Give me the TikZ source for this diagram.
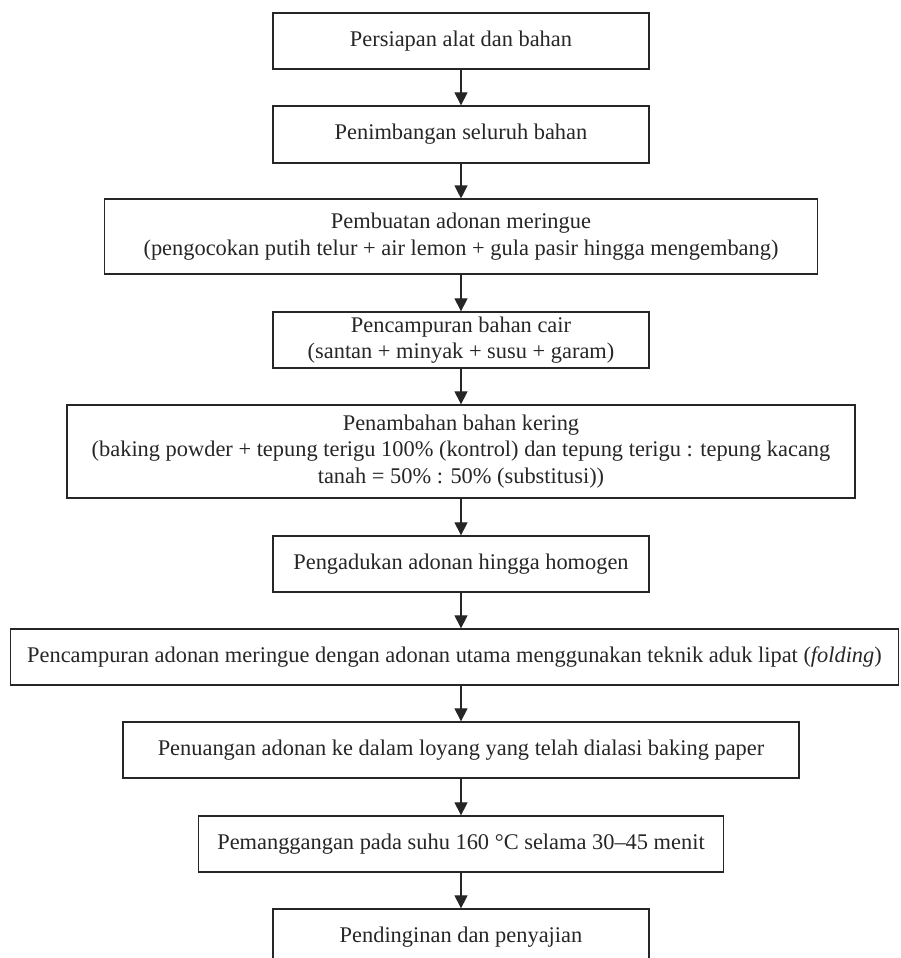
\documentclass[tikz,border=0pt]{standalone}
\usepackage{fontspec}
\setmainfont{Liberation Serif}
\usetikzlibrary{arrows.meta}
\begin{document}
\begin{tikzpicture}[x=1pt,y=1pt,
  box/.style={draw=black!85, line width=1.3pt, align=center, inner sep=0pt,
    font=\fontsize{22.4}{26.5}\selectfont, text=black!85},
  flow/.style={draw=black!85, line width=1.1pt, -{Triangle[length=13pt,width=13pt]}}]
\useasboundingbox (0,0) rectangle (900,-958);
\node[box, minimum width=376, minimum height=56] (b1) at (461,-41) {Persiapan alat dan bahan};
\node[box, minimum width=376, minimum height=57] (b2) at (461,-134.5) {Penimbangan seluruh bahan};
\node[box, minimum width=713, minimum height=75] (b3) at (461,-236.6) {Pembuatan adonan meringue\\(pengocokan putih telur + air lemon + gula pasir hingga mengembang)};
\node[box, minimum width=376, minimum height=56] (b4) at (461,-340) {Pencampuran bahan cair\\(santan + minyak + susu + garam)};
\node[box, minimum width=788, minimum height=93] (b5) at (461,-451.5) {Penambahan bahan kering\\(baking powder + tepung terigu 100\% (kontrol) dan tepung terigu : tepung kacang\\tanah = 50\% : 50\% (substitusi))};
\node[box, minimum width=376, minimum height=56] (b6) at (461,-564) {Pengadukan adonan hingga homogen};
\node[box, minimum width=888, minimum height=56] (b7) at (454.5,-657) {Pencampuran adonan meringue dengan adonan utama menggunakan teknik aduk lipat (\textit{folding})};
\node[box, minimum width=676, minimum height=56] (b8) at (461,-750) {Penuangan adonan ke dalam loyang yang telah dialasi baking paper};
\node[box, minimum width=525, minimum height=56] (b9) at (461,-844) {Pemanggangan pada suhu 160 °C selama 30–45 menit};
\node[box, minimum width=376, minimum height=56] (b10) at (461,-937) {Pendinginan dan penyajian};
\draw[flow] (b1) -- (b2);
\draw[flow] (b2) -- (b3);
\draw[flow] (b3) -- (b4);
\draw[flow] (b4) -- (b5);
\draw[flow] (b5) -- (b6);
\draw[flow] (b6.south) -- (b6.south |- b7.north);
\draw[flow] (b8.north |- b7.south) -- (b8.north);
\draw[flow] (b8) -- (b9);
\draw[flow] (b9) -- (b10);
\end{tikzpicture}
\end{document}
